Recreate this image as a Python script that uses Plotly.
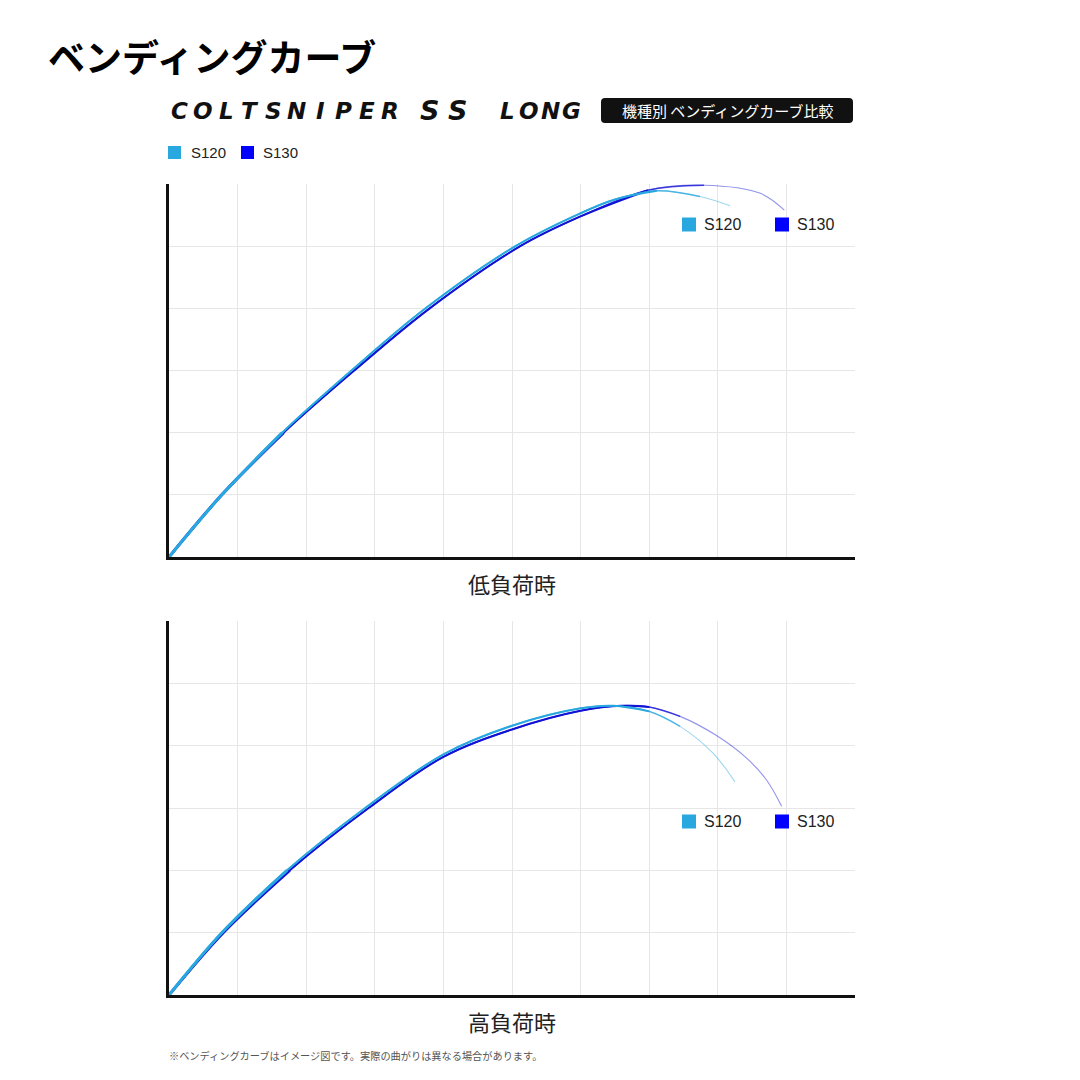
import plotly.graph_objects as go

# ---------------- data ----------------
series_names = ["S120", "S130"]
series_colors = ["#29a8e0", "#0000ff"]
line_colors = ["#29a8e0", "#1212d6"]

# low load (低負荷時)
low_s120_x = [0, 0.77, 1.65, 2.66, 3.74, 5.05, 5.98, 6.50, 7.11, 7.74, 8.18]
low_s120_y = [0, 1.00, 2.00, 3.00, 4.00, 5.00, 5.52, 5.75, 5.89, 5.80, 5.65]
low_s130_x = [0, 0.77, 1.67, 2.70, 3.80, 5.12, 5.98, 6.98, 7.80, 8.62, 8.97]
low_s130_y = [0, 1.00, 2.00, 3.00, 4.00, 5.00, 5.47, 5.90, 5.98, 5.85, 5.58]

# high load (高負荷時)
high_s120_x = [0, 0.77, 1.72, 2.86, 4.00, 5.00, 6.00, 6.48, 7.00, 7.45, 7.93, 8.25]
high_s120_y = [0, 1.00, 2.00, 3.00, 3.86, 4.32, 4.60, 4.64, 4.55, 4.31, 3.88, 3.42]
high_s130_x = [0, 0.79, 1.76, 2.91, 4.00, 5.00, 6.00, 6.60, 7.00, 7.45, 7.97, 8.42, 8.71, 8.93]
high_s130_y = [0, 1.00, 2.00, 3.00, 3.82, 4.26, 4.56, 4.64, 4.62, 4.47, 4.17, 3.80, 3.45, 3.03]

chart_titles = ["低負荷時", "高負荷時"]
x_grid = [1, 2, 3, 4, 5, 6, 7, 8, 9]
y_grid = [1, 2, 3, 4, 5]

logo_words = ["COLTSNIPER", "SS", "LONG"]

W = H = 1080


def px(x):
    return x / W


def py(y):
    return 1 - y / H


fig = go.Figure()

# tapered line: overlapping layers, thinner/paler toward the tip
layers = [(None, 1.1, 0.45), (7.9, 1.5, 0.75), (7.2, 2.0, 1.0), (1.8, 3.0, 1.0)]


def add_curve(xs, ys, color, xa, ya):
    for xmax, width, op in layers:
        if xmax is None:
            sx, sy = xs, ys
        else:
            idx = [i for i, v in enumerate(xs) if v <= xmax]
            sx = [xs[i] for i in idx]
            sy = [ys[i] for i in idx]
        fig.add_trace(go.Scatter(
            x=sx, y=sy, mode="lines", xaxis=xa, yaxis=ya,
            line=dict(color=color, width=width, shape="spline", smoothing=1.0),
            opacity=op, showlegend=False, hoverinfo="skip"))


add_curve(low_s130_x, low_s130_y, line_colors[1], "x", "y")
add_curve(low_s120_x, low_s120_y, line_colors[0], "x", "y")
add_curve(high_s130_x, high_s130_y, line_colors[1], "x2", "y2")
add_curve(high_s120_x, high_s120_y, line_colors[0], "x2", "y2")

axis_common = dict(showticklabels=False, ticks="", zeroline=False, showgrid=True,
                   gridcolor="#e6e6e6", gridwidth=1, showline=True,
                   linecolor="#111111", linewidth=3, fixedrange=True)

xdom = [px(169), px(855)]
fig.update_layout(
    xaxis=dict(domain=xdom, range=[0, 10], tickvals=x_grid, anchor="y", **axis_common),
    yaxis=dict(domain=[py(557), py(184)], range=[0, 6], tickvals=y_grid, anchor="x", **axis_common),
    xaxis2=dict(domain=xdom, range=[0, 10], tickvals=x_grid, anchor="y2", **axis_common),
    yaxis2=dict(domain=[py(995), py(621)], range=[0, 6], tickvals=y_grid, anchor="x2", **axis_common),
)

shapes = []
annotations = []

# page title
annotations.append(dict(text="<b>ベンディングカーブ</b>", x=px(46), y=py(56), xref="paper", yref="paper",
                        xanchor="left", yanchor="middle", showarrow=False,
                        font=dict(family="Noto Sans CJK JP", size=37, color="#000000")))

# logo: letters set on an even, wide spacing (extended logotype)
logo_spans = [(168, 402, 23), (415, 471, 27), (497, 582, 23)]
for word, (x0, x1, fs) in zip(logo_words, logo_spans):
    cell = (x1 - x0) / len(word)
    for i, ch in enumerate(word):
        annotations.append(dict(text="<b><i>" + ch + "</i></b>", x=px(x0 + cell * (i + 0.5)), y=py(110.5),
                                xref="paper", yref="paper", xanchor="center", yanchor="middle",
                                showarrow=False,
                                font=dict(family="DejaVu Sans", size=fs, color="#111111")))

# black rounded label box
bx0, bx1, by0, by1, r = 601, 853, 98, 123, 4
path = (f"M {px(bx0 + r)},{py(by0)} L {px(bx1 - r)},{py(by0)} "
        f"Q {px(bx1)},{py(by0)} {px(bx1)},{py(by0 + r)} L {px(bx1)},{py(by1 - r)} "
        f"Q {px(bx1)},{py(by1)} {px(bx1 - r)},{py(by1)} L {px(bx0 + r)},{py(by1)} "
        f"Q {px(bx0)},{py(by1)} {px(bx0)},{py(by1 - r)} L {px(bx0)},{py(by0 + r)} "
        f"Q {px(bx0)},{py(by0)} {px(bx0 + r)},{py(by0)} Z")
shapes.append(dict(type="path", path=path, xref="paper", yref="paper",
                   fillcolor="#111111", line=dict(width=0)))
annotations.append(dict(text="機種別 ベンディングカーブ比較", x=px(727), y=py(110.5), xref="paper", yref="paper",
                        xanchor="center", yanchor="middle", showarrow=False,
                        font=dict(family="Noto Sans CJK JP", size=15, color="#ffffff")))


# legends (squares + labels)
def legend(items, y_center, size, fs):
    for (sq_x, tx_x), name, col in zip(items, series_names, series_colors):
        shapes.append(dict(type="rect", xref="paper", yref="paper",
                           x0=px(sq_x), x1=px(sq_x + size),
                           y0=py(y_center + size / 2), y1=py(y_center - size / 2),
                           fillcolor=col, line=dict(width=0)))
        annotations.append(dict(text=name, x=px(tx_x), y=py(y_center), xref="paper", yref="paper",
                                xanchor="left", yanchor="middle", showarrow=False,
                                font=dict(family="Liberation Sans", size=fs, color="#222222")))


legend([(168, 189), (241, 261)], 152.5, 13, 15)
legend([(682, 702), (775, 795)], 224.5, 14, 16)
legend([(682, 702), (775, 795)], 821.5, 14, 16)

# chart captions
for t, yc in zip(chart_titles, [583, 1021]):
    annotations.append(dict(text=t, x=px(512), y=py(yc), xref="paper", yref="paper",
                            xanchor="center", yanchor="middle", showarrow=False,
                            font=dict(family="Noto Sans CJK JP", size=22, color="#222222")))

# footnote
annotations.append(dict(text="※ベンディングカーブはイメージ図です。実際の曲がりは異なる場合があります。",
                        x=px(167), y=py(1055), xref="paper", yref="paper",
                        xanchor="left", yanchor="middle", showarrow=False,
                        font=dict(family="Noto Sans CJK JP", size=10.2, color="#555555")))

fig.update_layout(width=W, height=H, margin=dict(l=0, r=0, t=0, b=0),
                  paper_bgcolor="#ffffff", plot_bgcolor="#ffffff",
                  shapes=shapes, annotations=annotations, showlegend=False)

fig.write_html("out.html", config={"displayModeBar": False},
               post_script="document.body.style.margin='0';document.body.style.overflow='hidden';")
